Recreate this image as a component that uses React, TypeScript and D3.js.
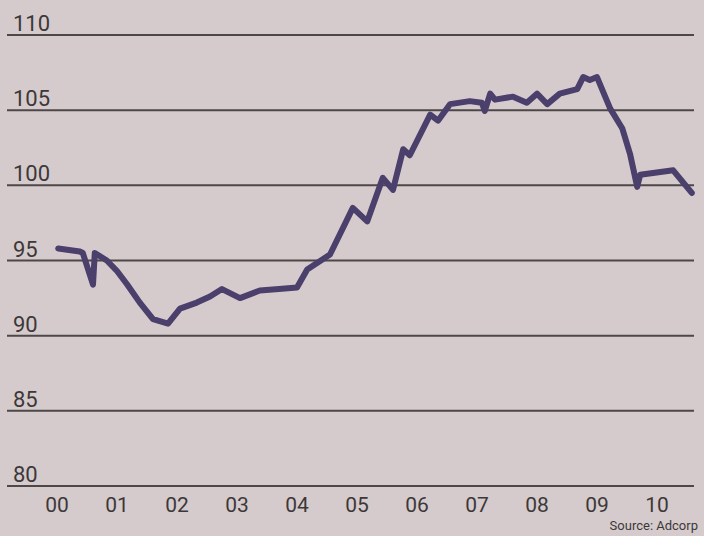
import React, { useEffect, useRef } from 'react';
import * as d3 from 'd3';

// time in years since Jan 2000, index value
const times = [
  0.02, 0.38, 0.43, 0.6, 0.63, 0.83, 1.0, 1.17, 1.38, 1.6, 1.85, 2.05, 2.33, 2.55, 2.75,
  3.05, 3.38, 3.7, 4.0, 4.17, 4.55, 4.93, 5.17, 5.43, 5.6, 5.77, 5.88, 6.22, 6.35, 6.55,
  6.88, 7.08, 7.13, 7.22, 7.3, 7.6, 7.83, 8.0, 8.17, 8.38, 8.67, 8.77, 8.88, 9.0, 9.22,
  9.42, 9.55, 9.67, 9.72, 10.27, 10.58,
];
const values = [
  95.8, 95.6, 95.5, 93.4, 95.5, 95.0, 94.3, 93.4, 92.2, 91.1, 90.8, 91.8, 92.2, 92.6, 93.1,
  92.5, 93.0, 93.1, 93.2, 94.4, 95.4, 98.5, 97.6, 100.5, 99.7, 102.4, 102.0, 104.7, 104.3, 105.4,
  105.6, 105.5, 104.95, 106.1, 105.7, 105.9, 105.5, 106.1, 105.4, 106.1, 106.4, 107.2, 107.0, 107.2, 105.1,
  103.8, 102.1, 99.9, 100.7, 101.0, 99.5,
];

const yTicks = [80, 85, 90, 95, 100, 105, 110];
const xTickLabels = ['00', '01', '02', '03', '04', '05', '06', '07', '08', '09', '10'];
const source = 'Source: Adcorp';

const W = 704;
const H = 536;
const FONT = "'Liberation Sans Narrow', 'Roboto', 'DejaVu Sans', sans-serif";

const App = () => {
  const svgRef = useRef(null);

  useEffect(() => {
    const svg = d3.select(svgRef.current);
    svg.selectAll('*').remove();

    const x = d3.scaleLinear().domain([0, 10]).range([57, 657]);
    const y = d3.scaleLinear().domain([80, 110]).range([486, 35]);

    // paper background
    svg.append('rect')
      .attr('width', W)
      .attr('height', H)
      .attr('fill', '#d5cbcd');

    // horizontal gridlines + y labels
    const grid = svg.append('g');
    yTicks.forEach(t => {
      grid.append('line')
        .attr('x1', 7)
        .attr('x2', 694)
        .attr('y1', y(t))
        .attr('y2', y(t))
        .attr('stroke', '#4d4747')
        .attr('stroke-width', 2);
      grid.append('text')
        .attr('x', 13)
        .attr('y', y(t) - 4)
        .attr('fill', '#3d3838')
        .attr('font-family', FONT)
        .attr('font-size', 22)
        .text(t);
    });

    // x labels
    xTickLabels.forEach((lab, i) => {
      svg.append('text')
        .attr('x', x(i))
        .attr('y', 512)
        .attr('text-anchor', 'middle')
        .attr('fill', '#3d3838')
        .attr('font-family', FONT)
        .attr('font-size', 21)
        .text(lab);
    });

    const line = d3.line()
      .x((d, i) => x(times[i]))
      .y(d => y(d))
      .curve(d3.curveLinear);

    svg.append('path')
      .datum(values)
      .attr('d', line)
      .attr('fill', 'none')
      .attr('stroke', '#4b3f6c')
      .attr('stroke-width', 6)
      .attr('stroke-linejoin', 'round')
      .attr('stroke-linecap', 'round');

    svg.append('text')
      .attr('x', 698)
      .attr('y', 530)
      .attr('text-anchor', 'end')
      .attr('fill', '#3d3838')
      .attr('font-family', FONT)
      .attr('font-size', 13)
      .text(source);
  }, []);

  return (
    <svg
      ref={svgRef}
      width={W}
      height={H}
      style={{ position: 'absolute', left: 0, top: 0, display: 'block' }}
    />
  );
};

export default App;
